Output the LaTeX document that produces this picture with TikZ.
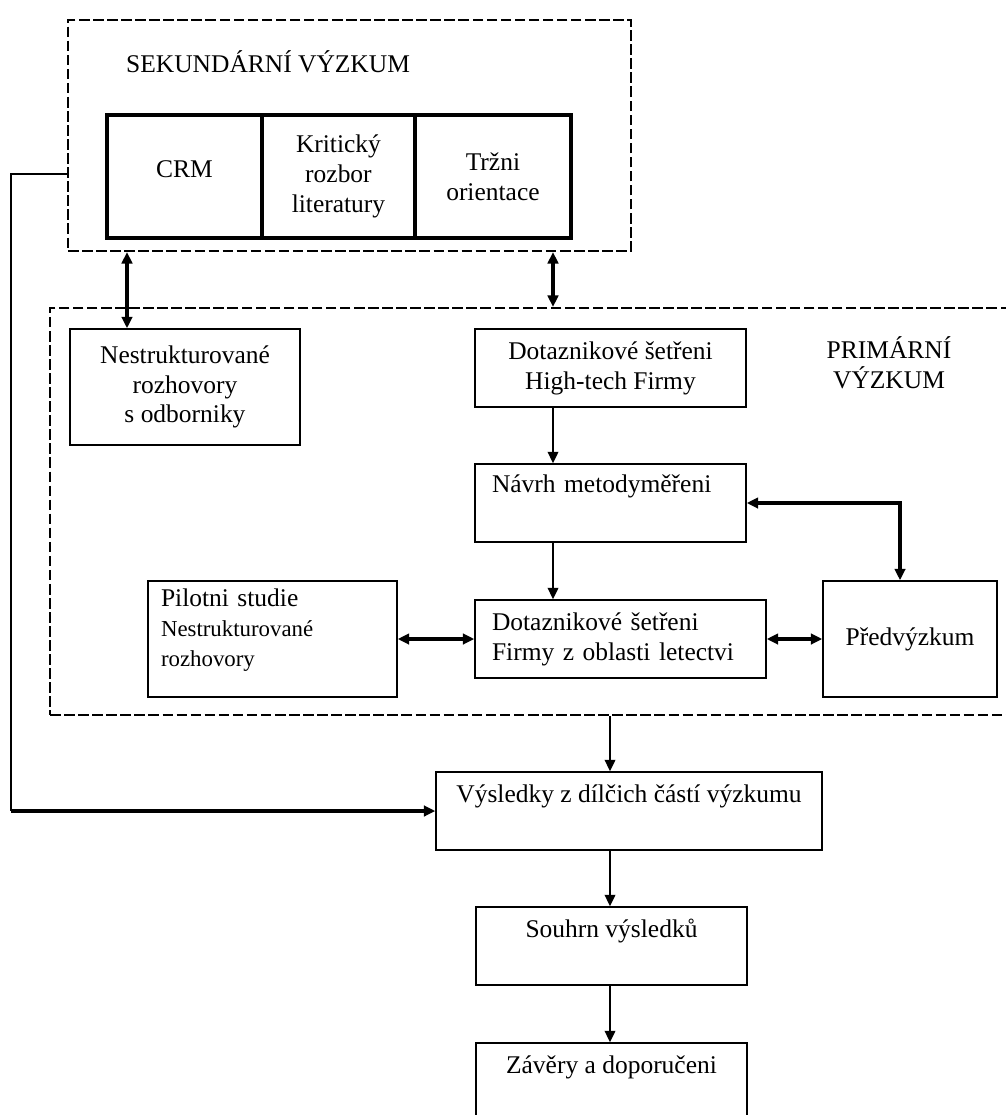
\documentclass[tikz,border=0pt]{standalone}
\usepackage{fontspec}
\setmainfont{Liberation Serif}
\usetikzlibrary{arrows.meta,positioning}
\newcommand{\smalltxt}{\fontsize{13}{15}\selectfont}

\begin{document}
\begin{tikzpicture}[x=0.02cm, y=-0.02cm,
  font=\fontsize{14.5}{17}\selectfont,
  box/.style={draw, line width=0.9pt, inner sep=0pt, align=center, minimum height=1.56cm},
  lbox/.style={box, align=left, inner xsep=0.34cm},
  cell/.style={draw, line width=2pt, inner sep=0pt, outer sep=0pt, align=center, minimum height=2.46cm},
  area/.style={draw, line width=1.3pt, dash pattern=on 6pt off 2pt},
  arr/.style={-{Triangle[length=6.5pt,width=6pt]}, line width=1.2pt},
  dbl/.style={{Triangle[length=6.5pt,width=6pt]}-{Triangle[length=6.5pt,width=6pt]}, line width=2pt}]
\useasboundingbox (0,0) rectangle (1005,1115);
\node[area, minimum width=11.26cm, minimum height=4.62cm] (sek) at (349.5,135.5) {};
\node[anchor=west] (seklbl) at (120,62) {SEKUNDÁRNÍ VÝZKUM};
\node[cell, minimum width=3.1cm] (crm) at (184.5,176.5) {CRM\\[-9pt]\mbox{}};
\node[cell, minimum width=3.06cm, right=0pt of crm] (krit) {Kritický\\rozbor\\literatury};
\node[cell, minimum width=3.12cm, right=0pt of krit] (trh) {Tržni\\orientace};
\node[area, minimum width=19.6cm, minimum height=8.14cm] (prim) at (540,511.5) {};
\node[align=center] (primlbl) at (889,363) {PRIMÁRNÍ\\VÝZKUM};
\node[box, minimum width=4.6cm, minimum height=2.32cm] (nestr) at (185,387) {Nestrukturované\\rozhovory\\s odborniky};
\node[box, minimum width=5.42cm] (dotht) at (610.5,368) {Dotaznikové šetřeni\\High-tech Firmy};
\node[lbox, text width=4.74cm, minimum width=5.42cm] (navrh) at (610.5,503) {Návrh metodyměřeni\\\strut};
\node[lbox, text width=5.14cm, minimum width=5.82cm] (dotlet) at (620.5,639) {Dotaznikové šetřeni\\Firmy z oblasti letectvi};
\node[lbox, inner xsep=0.26cm, text width=4.46cm, minimum width=4.98cm, minimum height=2.32cm] (pilot) at (272.5,639)
  {Pilotni studie\\{\smalltxt Nestrukturované}\\{\smalltxt rozhovory}\\[-4pt]\mbox{}};
\node[box, minimum width=3.48cm, minimum height=2.32cm] (predv) at (910,639) {Předvýzkum};
\node[box, minimum width=7.72cm] (vysl) at (629,811) {Výsledky z dílčich částí výzkumu\\[-2pt]\strut};
\node[box, minimum width=5.42cm] (souhrn) at (611.5,946) {Souhrn výsledků\\[-2pt]\strut};
\node[box, minimum width=5.42cm] (zavery) at (611.5,1082) {Závěry a doporučeni\\[-2pt]\strut};
\coordinate (xa) at (127,0);
\coordinate (xb) at (553,0);
\coordinate (xc) at (900,0);
\coordinate (xd) at (610,0);
\coordinate (bend1) at (11,174);
\coordinate (bend2) at (11,811);
\draw[dbl] (sek.south -| xa) -- (nestr.north -| xa);
\draw[dbl] (sek.south -| xb) -- (prim.north -| xb);
\draw[arr] (dotht.south -| xb) -- (navrh.north -| xb);
\draw[arr] (navrh.south -| xb) -- (dotlet.north -| xb);
\draw[dbl] (navrh.east) -| (predv.north -| xc);
\draw[dbl] (pilot.east) -- (dotlet.west);
\draw[dbl] (dotlet.east) -- (predv.west);
\draw[arr] (prim.south -| xd) -- (vysl.north -| xd);
\draw[line width=0.8pt] (sek.west |- bend1) -- (bend1) -- (bend2);
\draw[arr, line width=2pt] (bend2) -- (vysl.west);
\draw[arr] (vysl.south -| xd) -- (souhrn.north -| xd);
\draw[arr] (souhrn.south -| xd) -- (zavery.north -| xd);
\end{tikzpicture}
\end{document}
